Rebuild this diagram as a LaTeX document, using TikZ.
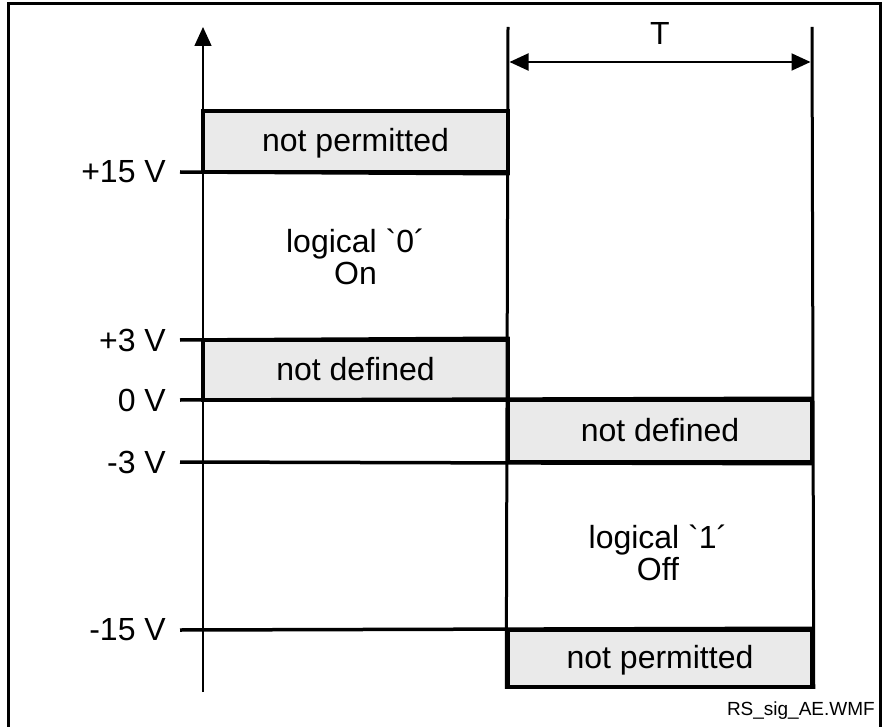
\documentclass[tikz,border=0pt]{standalone}
\usepackage{fontspec}
\setmainfont{Liberation Sans}
\newfontfamily\plainsans{Liberation Sans}
\definecolor{boxgrey}{RGB}{234, 234, 234}
\usetikzlibrary{positioning,arrows.meta}

\tikzset{
  greybox/.style={draw, line width=3.5pt, fill=boxgrey, inner sep=0pt, text height=25pt, text depth=5pt},
  level/.style={line width=3.5pt},
  vlabel/.style={anchor=east, inner xsep=0pt},
  bigtip/.tip={Triangle[length=19pt, width=17pt]}
}

\begin{document}
\begin{tikzpicture}[x=1pt, y=-1pt, every node/.style={font=\plainsans\fontsize{32}{32.5}\selectfont}]
  \useasboundingbox (0,0) rectangle (883,727);
  % frame
  \draw[line width=3pt] (8,727) -- (8,4) -- (880,4) -- (880,727);
  % voltage axis
  \coordinate (axbot) at (203,692);
  \coordinate (axtop) at (203,27);
  \draw[line width=1.5pt, -{bigtip}] (axbot) -- (axtop);
  % grey zones
  \node[greybox, minimum width=305pt, minimum height=61pt] (np1) at (355.5,141.5) {not permitted};
  \node[greybox, minimum width=305pt, minimum height=60pt] (nd1) at (355.5,370) {not defined};
  \node[greybox, minimum width=304pt, minimum height=62pt] (nd2) at (660,431) {not defined};
  \node[greybox, minimum width=304pt, minimum height=57pt] (np2) at (660,658.5) {not permitted};
  % level labels
  \node[vlabel] (lp15) at (166,172) {+15 V};
  \node[vlabel] (lp3) at (166,340) {+3 V};
  \node[vlabel] (lz) at (166,400) {0 V};
  \node[vlabel] (lm3) at (166,462) {-3 V};
  \node[vlabel] (lm15) at (166,630) {-15 V};
  \draw[level] ([xshift=14pt]lp15.east) -- (np1.south east);
  \draw[level] ([xshift=14pt]lp3.east) -- (nd1.north east);
  \draw[level] ([xshift=14pt]lz.east) -- (nd2.north east);
  \draw[level] ([xshift=14pt]lm3.east) -- (nd2.south east);
  \draw[level] ([xshift=14pt]lm15.east) -- (np2.north east);
  % period T
  \coordinate (ta) at (508,27);
  \coordinate (tb) at (812,27);
  \draw[line width=3pt] (ta) -- (np2.south west);
  \draw[line width=3pt] (tb) -- (np2.south east);
  \coordinate (tl) at (509.5,62);
  \coordinate (tr) at (810.5,62);
  \draw[line width=2pt, {bigtip}-{bigtip}] (tl) -- (tr);
  \node[anchor=base] (tlbl) at (660,45) {T};
  % states
  \node[align=center] (st0) at (355.5,257) {logical \symbol{"60}0\symbol{"B4}\\On};
  \node[align=center] (st1) at (658,553) {logical \symbol{"60}1\symbol{"B4}\\Off};
  \node[font=\plainsans\fontsize{19}{21}\selectfont, anchor=base east, inner sep=0pt] (fname) at (875,715) {RS\_sig\_AE.WMF};
\end{tikzpicture}
\end{document}
